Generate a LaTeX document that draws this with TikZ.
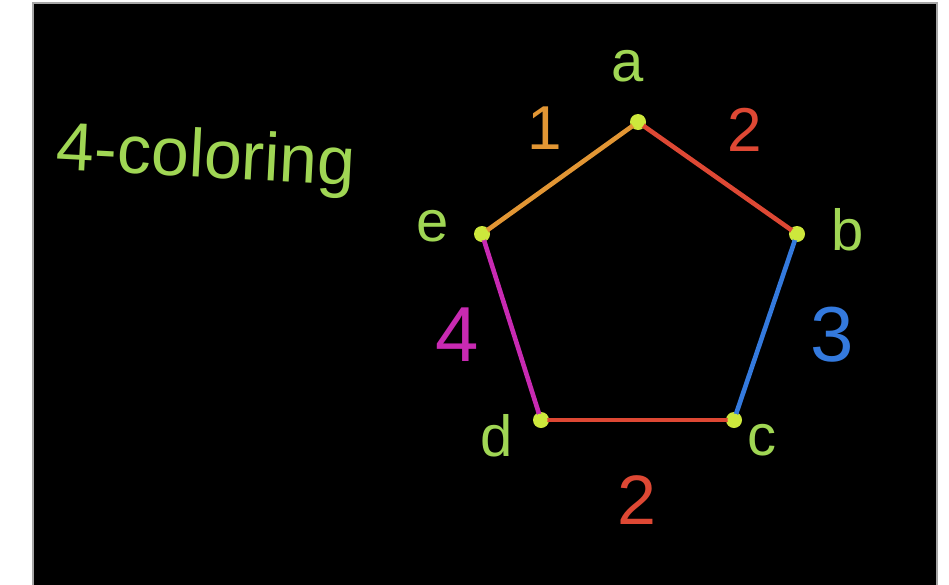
\documentclass[tikz,border=0pt]{standalone}
\usepackage{fontspec}
\setmainfont{Liberation Sans}
\usetikzlibrary{positioning}
\definecolor{mygreen}{RGB}{160,214,84}
\definecolor{mydot}{RGB}{205,232,60}
\definecolor{myorange}{RGB}{226,150,52}
\definecolor{myred}{RGB}{222,72,52}
\definecolor{myblue}{RGB}{52,122,222}
\definecolor{mymagenta}{RGB}{200,42,178}
\tikzset{
  vtx/.style={circle, fill=mydot, inner sep=0pt, minimum size=16pt},
  vlabel/.style={text=mygreen, font=\fontsize{58}{60}\selectfont},
  elabel/.style={font=\fontsize{62}{64}\selectfont},
  edge/.style={line width=4.6pt, line cap=round}
}
\begin{document}
\begin{tikzpicture}[x=1pt, y=-1pt]
            \useasboundingbox (0,0) rectangle (949,584);
            \fill[white] (0,0) rectangle (949,584);
            \fill[black, draw=gray!70, line width=1.2pt] (33,3) rectangle (937,590);
            % title
            \node[text=mygreen, font=\fontsize{68}{70}\selectfont, rotate=-3] (title) at (206,160) {4-coloring};
            % vertices
            \node[vtx] (a) at (638,122) {};
            \node[vtx] (b) at (797,234) {};
            \node[vtx] (c) at (734,420) {};
            \node[vtx] (d) at (541,420) {};
            \node[vtx] (e) at (482,234) {};
            % edges
            \draw[edge, myred] (a.center) -- (b.center);
            \draw[edge, myblue] (b.center) -- (c.center);
            \draw[edge, myred] (c.center) -- (d.center);
            \draw[edge, mymagenta] (d.center) -- (e.center);
            \draw[edge, myorange] (e.center) -- (a.center);
            \foreach \v in {a,b,c,d,e}
              \fill[mydot] (\v) circle (6.5pt);
            % vertex labels
            \node[vlabel] (la) at (628,66) {a};
            \node[vlabel] (lb) at (848,230) {b};
            \node[vlabel] (lc) at (762,440) {c};
            \node[vlabel] (ld) at (497,436) {d};
            \node[vlabel] (le) at (433,226) {e};
            % colour numbers
            \node[elabel, text=myorange] (n1) at (545,128) {1};
            \node[elabel, text=myred] (n2) at (745,130) {2};
            \node[elabel, text=myblue, font=\fontsize{78}{80}\selectfont] (n3) at (832,335) {3};
            \node[elabel, text=mymagenta, font=\fontsize{78}{80}\selectfont] (n4) at (457,335) {4};
            \node[elabel, text=myred, font=\fontsize{70}{72}\selectfont] (n5) at (637,500) {2};
        \end{tikzpicture}
\end{document}
